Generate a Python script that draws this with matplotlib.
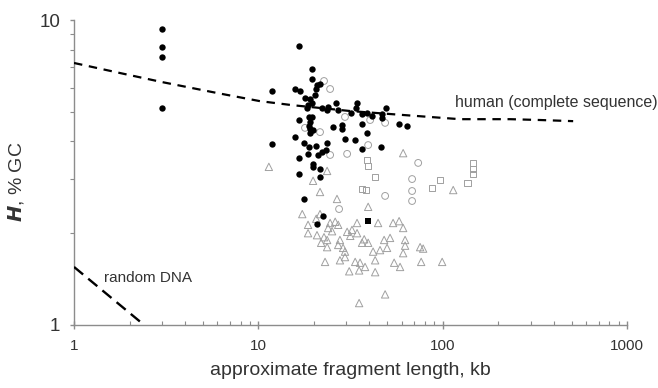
"""H (% GC) against approximate fragment length, log-log scatter."""

import matplotlib
matplotlib.use("Agg")
import matplotlib.pyplot as plt
from matplotlib.ticker import LogLocator, NullFormatter, FixedLocator, FixedFormatter

plt.rcParams["font.family"] = ["Liberation Sans", "DejaVu Sans"]

# filled black circles
black_x = [3.0, 3.0, 3.0, 3.0, 16.6, 19.6, 19.6, 20.8, 21.6, 20.6, 11.9, 15.8, 16.8,
           20.3, 17.9, 19.1, 18.6, 19.6, 18.4, 22.2, 23.9, 26.4, 34.3, 33.9, 31.8,
           36.5, 38.9, 41.4, 49.3, 46.9, 46.9, 58.0, 64.1, 18.8, 19.6, 16.6, 19.1,
           18.8, 19.1, 19.1, 19.8, 23.6, 27.1, 25.4, 28.5, 28.5, 36.5, 11.9, 15.8,
           17.7, 18.8, 20.6, 23.6, 29.5, 33.5, 38.9, 18.6, 21.1, 22.2, 23.3, 16.6,
           19.8, 19.8, 21.6, 16.6, 21.6, 46.3, 36.5, 17.7, 22.4, 20.8]
black_y = [9.34, 8.15, 7.56, 5.14, 8.22, 6.91, 6.41, 6.12, 6.17, 5.94, 5.85, 5.94, 5.85,
           5.68, 5.55, 5.51, 5.27, 5.34, 5.14, 5.14, 5.19, 5.34, 5.34, 5.14, 4.96,
           4.92, 4.96, 4.84, 5.14, 4.92, 4.77, 4.56, 4.49, 4.81, 4.81, 4.70, 4.63,
           4.49, 4.39, 4.26, 4.36, 5.07, 5.07, 4.46, 4.53, 4.39, 4.56, 3.92, 4.13,
           3.95, 3.83, 3.86, 3.95, 4.07, 4.04, 4.26, 3.64, 3.61, 3.69, 3.75, 3.53,
           3.37, 3.30, 3.25, 3.13, 3.06, 3.83, 3.78, 2.59, 2.28, 2.14]

# single filled square
sq_fill_x = [39.4]
sq_fill_y = [2.19]

# open grey circles
circ_x = [22.7, 24.5, 29.5, 17.9, 21.6, 24.5, 30.3, 40.4, 48.7, 39.4, 73.6, 68.2,
          68.2, 68.2, 48.7, 27.4]
circ_y = [6.31, 5.94, 4.81, 4.43, 4.29, 3.61, 3.64, 4.70, 4.60, 3.89, 3.40, 3.01,
          2.75, 2.55, 2.65, 2.40]

# open grey squares
sq_x = [38.9, 39.4, 43.0, 96.8, 87.6, 146, 146, 146, 136, 36.5, 38.4]
sq_y = [3.48, 3.32, 3.06, 2.99, 2.81, 3.40, 3.25, 3.13, 2.92, 2.79, 2.77]

# open grey triangles
tri_x = [11.4, 23.6, 19.8, 21.6, 26.7, 61.0, 114, 17.3, 21.6, 18.6, 24.5, 26.1, 27.1,
         34.3, 18.6, 20.8, 22.7, 23.9, 25.1, 30.3, 32.2, 34.3, 23.6, 21.9, 27.7,
         27.1, 28.8, 29.5, 23.6, 29.5, 27.7, 23.0, 33.5, 31.1, 35.2, 39.4, 44.6,
         53.8, 58.0, 61.0, 31.5, 37.5, 36.5, 39.4, 48.1, 51.8, 62.5, 62.5, 61.0,
         49.9, 45.7, 41.9, 75.4, 78.3, 43.0, 35.6, 37.9, 43.0, 54.5, 58.7, 76.4,
         99.3, 48.7, 35.2, 20.6]
tri_y = [3.30, 3.20, 2.97, 2.73, 2.59, 3.66, 2.77, 2.31, 2.31, 2.13, 2.16, 2.18, 2.13,
         2.16, 2.00, 1.97, 1.94, 2.08, 2.03, 2.02, 2.05, 2.00, 1.90, 1.86, 1.90,
         1.83, 1.79, 1.74, 1.80, 1.67, 1.63, 1.61, 1.61, 1.50, 1.51, 2.44, 2.16,
         2.16, 2.19, 2.08, 1.96, 1.91, 1.86, 1.86, 1.90, 1.93, 1.90, 1.82, 1.72,
         1.79, 1.76, 1.74, 1.80, 1.78, 1.63, 1.60, 1.55, 1.49, 1.60, 1.55, 1.61,
         1.61, 1.26, 1.18, 2.23]

# reference curves
human_x = [1.0, 1.78, 3.0, 6.0, 10.2, 15.2, 31.5, 58.7, 124, 232, 338, 510]
human_y = [7.23, 6.70, 6.26, 5.76, 5.42, 5.26, 5.03, 4.89, 4.73, 4.73, 4.70, 4.66]
random_x = [1.0, 2.4]
random_y = [1.55, 1.0]

GREY = "#a0a0a0"
AXIS = "#8c8c8c"
TEXT = "#333333"

fig = plt.figure(figsize=(6.58, 3.88), dpi=100)
ax = fig.add_axes([0.1125, 0.1624, 0.8405, 0.786])
ax.set_xscale("log")
ax.set_yscale("log")
ax.set_xlim(1, 1000)
ax.set_ylim(1, 10)

ax.plot(human_x, human_y, color="black", lw=1.6, linestyle=(0, (3.8, 3.0)), zorder=3)
ax.plot(random_x, random_y, color="black", lw=1.7, linestyle=(0, (5, 2.8)), zorder=3)

ax.scatter(tri_x, tri_y, marker="^", s=28, facecolors="none", edgecolors=GREY,
           linewidths=0.7, zorder=2)
ax.scatter(sq_x, sq_y, marker="s", s=22, facecolors="none", edgecolors=GREY,
           linewidths=0.7, zorder=2)
ax.scatter(circ_x, circ_y, marker="o", s=24, facecolors="none", edgecolors=GREY,
           linewidths=0.7, zorder=2)
ax.scatter(black_x, black_y, marker="o", s=21, color="black", linewidths=0, zorder=4)
ax.scatter(sq_fill_x, sq_fill_y, marker="s", s=20, color="black", linewidths=0, zorder=4)

ax.text(117, 5.38, "human (complete sequence)", fontsize=11.5, color=TEXT,
        ha="left", va="center", clip_on=False)
ax.text(1.45, 1.43, "random DNA", fontsize=11, color=TEXT, ha="left", va="center")

for side in ("top", "right"):
    ax.spines[side].set_visible(False)
for side in ("left", "bottom"):
    ax.spines[side].set_color(AXIS)
    ax.spines[side].set_linewidth(1.0)

ax.xaxis.set_major_locator(FixedLocator([1, 10, 100, 1000]))
ax.xaxis.set_major_formatter(FixedFormatter(["1", "10", "100", "1000"]))
ax.xaxis.set_minor_locator(LogLocator(base=10, subs=range(2, 10)))
ax.xaxis.set_minor_formatter(NullFormatter())
ax.yaxis.set_major_locator(FixedLocator([1, 10]))
ax.yaxis.set_major_formatter(FixedFormatter(["1", "10"]))
ax.yaxis.set_minor_locator(LogLocator(base=10, subs=range(2, 10)))
ax.yaxis.set_minor_formatter(NullFormatter())

ax.tick_params(axis="x", which="major", direction="inout", length=6, width=1,
               color=AXIS, labelsize=11, labelcolor=TEXT, pad=7)
ax.tick_params(axis="x", which="minor", direction="in", length=3, width=0.8, color=AXIS)
ax.tick_params(axis="y", which="major", direction="out", length=3, width=1,
               color=AXIS, labelsize=13.5, labelcolor=TEXT, pad=7)
ax.tick_params(axis="y", which="minor", direction="out", length=3, width=0.8, color=AXIS)

ax.set_xlabel("approximate fragment length, kb", fontsize=14, color=TEXT)
ax.xaxis.set_label_coords(0.5, -0.12)
ax.set_ylabel(r"$\boldsymbol{H}$, % GC", fontsize=14, color=TEXT)
ax.yaxis.set_label_coords(-0.087, 0.47)

fig.savefig("out.png", dpi=100)
plt.close(fig)
